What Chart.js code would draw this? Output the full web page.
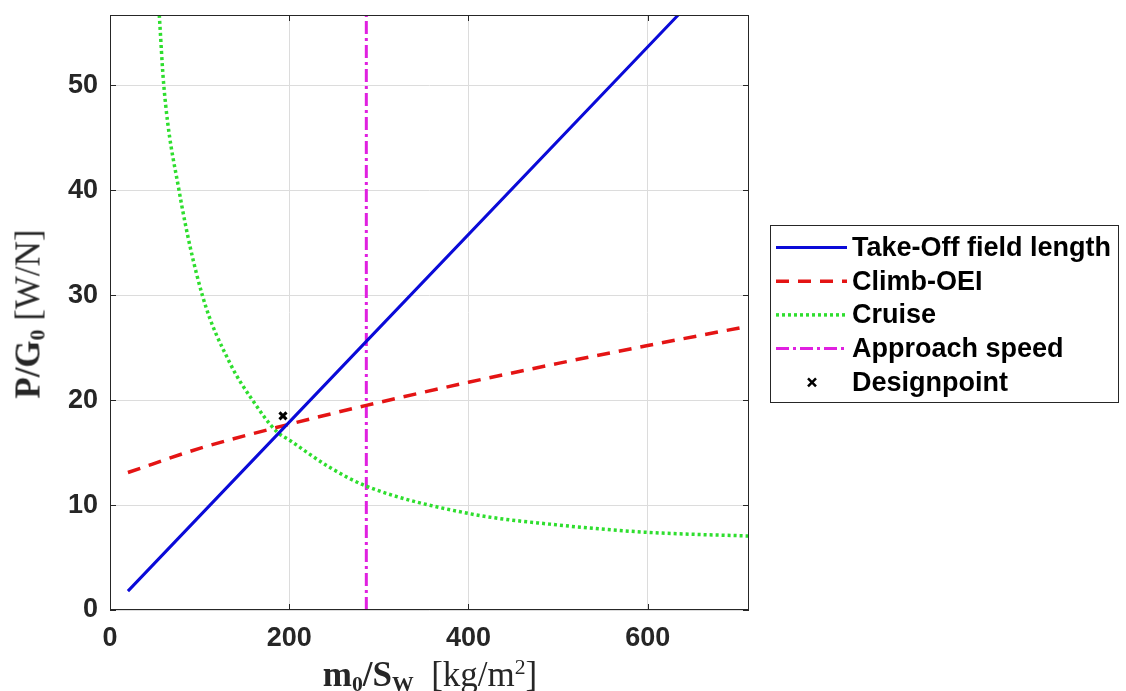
<!DOCTYPE html>
<html lang="en">
<head>
    <meta charset="UTF-8">
    <title>Constraint diagram</title>
    <script src="https://cdn.jsdelivr.net/npm/chart.js@4.4.1/dist/chart.umd.min.js"></script>
    <style>
        body { margin: 0; background: #fff; }
        #wrap { position: relative; width: 1126px; height: 691px; }
        .axtitle { position: absolute; font-family: "Liberation Serif", serif; font-size: 35px; color: #262626; white-space: nowrap; line-height: 1; }
        .axtitle b { font-weight: bold; }
        .lo { font-size: 62%; position: relative; top: 0.22em; }
        .hi { font-size: 62%; position: relative; top: -0.55em; }
        #xtitle { left: 430px; top: 674px; transform: translate(-50%, -50%); }
        #ytitle { left: 28px; top: 314px; transform: translate(-50%, -50%) rotate(-90deg); }
    </style>
</head>
<body>
<div id="wrap">
    <canvas id="chart" width="1126" height="691"></canvas>
    <div id="xtitle" class="axtitle"><b>m<span class="lo">0</span>/S<span class="lo">W</span></b>&nbsp; [kg/m<span class="hi">2</span>]</div>
    <div id="ytitle" class="axtitle"><b>P/G<span class="lo">0</span></b>&nbsp;[W/N]</div>
</div>
<script>
    // wing loading m0/Sw [kg/m^2] and power loading P/G0 [W/N]
    const takeoffX = [20, 286, 634];
    const takeoffY = [1.8, 25.6, 56.7];

    const climbX = [20, 100, 200, 286, 400, 500, 600, 713];
    const climbY = [13.1, 15.4, 17.7, 19.5, 21.7, 23.5, 25.2, 27.05];

    const cruiseX = [55, 60, 77, 103, 134, 159, 186, 200, 245, 286, 400, 500, 600, 713];
    const cruiseY = [56.7, 50, 40, 30, 23.5, 20, 17.0, 16.2, 13.6, 11.8, 9.2, 8.1, 7.4, 7.05];

    const approachX = [286, 286];
    const approachY = [0, 56.7];

    const designX = [193];
    const designY = [18.5];

    const xTicks = [0, 200, 400, 600];
    const yTicks = [0, 10, 20, 30, 40, 50];
    const xMax = 713;
    const yMax = 56.7;

    const pts = (xs, ys) => xs.map((x, i) => ({ x: x, y: ys[i] }));

    // box around the axes with inward tick marks, like the original
    const frame = {
        id: 'frame',
        afterDatasetsDraw(chart) {
            const { ctx, chartArea: a, scales } = chart;
            ctx.save();
            ctx.strokeStyle = '#262626';
            ctx.lineWidth = 1;
            ctx.strokeRect(a.left + 0.5, a.top + 0.5, a.right - a.left - 1, a.bottom - a.top - 1);
            ctx.beginPath();
            xTicks.forEach(t => {
                const px = Math.round(scales.x.getPixelForValue(t)) + 0.5;
                ctx.moveTo(px, a.bottom); ctx.lineTo(px, a.bottom - 6);
                ctx.moveTo(px, a.top); ctx.lineTo(px, a.top + 6);
            });
            yTicks.forEach(t => {
                const py = Math.round(scales.y.getPixelForValue(t)) + 0.5;
                ctx.moveTo(a.left, py); ctx.lineTo(a.left + 6, py);
                ctx.moveTo(a.right, py); ctx.lineTo(a.right - 6, py);
            });
            ctx.stroke();
            ctx.restore();
        }
    };

    // boxed legend drawn to the right of the axes
    const boxLegend = {
        id: 'boxLegend',
        afterDraw(chart) {
            const ctx = chart.ctx;
            const left = 770, top = 225, right = 1118, bottom = 402;
            ctx.save();
            ctx.fillStyle = '#fff';
            ctx.fillRect(left, top, right - left, bottom - top);
            ctx.strokeStyle = '#262626';
            ctx.lineWidth = 1;
            ctx.strokeRect(left + 0.5, top + 0.5, right - left, bottom - top);
            ctx.font = 'bold 27px "Liberation Sans", Arial, sans-serif';
            ctx.textBaseline = 'middle';
            ctx.fillStyle = '#000';
            chart.data.datasets.forEach((ds, i) => {
                const y = 247.5 + i * 33.7;
                if (ds.showLine === false) {
                    const cx = 812, r = 4;
                    ctx.strokeStyle = ds.borderColor;
                    ctx.lineWidth = 2.5;
                    ctx.setLineDash([]);
                    ctx.beginPath();
                    ctx.moveTo(cx - r, y - r); ctx.lineTo(cx + r, y + r);
                    ctx.moveTo(cx + r, y - r); ctx.lineTo(cx - r, y + r);
                    ctx.stroke();
                } else {
                    ctx.strokeStyle = ds.borderColor;
                    ctx.lineWidth = ds.borderWidth;
                    ctx.setLineDash(ds.borderDash || []);
                    ctx.beginPath();
                    ctx.moveTo(776, y); ctx.lineTo(847, y);
                    ctx.stroke();
                }
                ctx.setLineDash([]);
                ctx.fillText(ds.label, 852, y + 1);
            });
            ctx.restore();
        }
    };

    const ctx = document.getElementById('chart').getContext('2d');
    const tickFont = { family: '"Liberation Sans", Arial, sans-serif', size: 27, weight: 'bold' };

    new Chart(ctx, {
        type: 'scatter',
        data: {
            datasets: [
                {
                    label: 'Take-Off field length',
                    data: pts(takeoffX, takeoffY),
                    showLine: true, borderColor: '#0a0ad8', borderWidth: 3,
                    pointRadius: 0, tension: 0
                },
                {
                    label: 'Climb-OEI',
                    data: pts(climbX, climbY),
                    showLine: true, borderColor: '#e41414', borderWidth: 3.5, borderDash: [13, 9],
                    pointRadius: 0, cubicInterpolationMode: 'monotone'
                },
                {
                    label: 'Cruise',
                    data: pts(cruiseX, cruiseY),
                    showLine: true, borderColor: '#2ede2e', borderWidth: 3.5, borderDash: [3, 3],
                    pointRadius: 0, cubicInterpolationMode: 'monotone'
                },
                {
                    label: 'Approach speed',
                    data: pts(approachX, approachY),
                    showLine: true, borderColor: '#e020e0', borderWidth: 3, borderDash: [13, 4, 3, 4],
                    pointRadius: 0
                },
                {
                    label: 'Designpoint',
                    data: pts(designX, designY),
                    showLine: false, borderColor: '#000', backgroundColor: '#000',
                    pointStyle: 'crossRot', pointRadius: 5, borderWidth: 3
                }
            ]
        },
        options: {
            responsive: false,
            animation: false,
            clip: 0,
            layout: { padding: { top: 15, right: 377, left: 0, bottom: 0 } },
            plugins: { legend: { display: false }, tooltip: { enabled: false } },
            scales: {
                x: {
                    type: 'linear', min: 0, max: xMax,
                    afterFit: s => { s.height = 81; s.paddingLeft = 0; s.paddingRight = 0; },
                    afterBuildTicks: s => { s.ticks = xTicks.map(v => ({ value: v })); },
                    grid: { color: '#dcdcdc', drawTicks: false },
                    border: { display: false },
                    ticks: { font: tickFont, color: '#262626', padding: 12, maxRotation: 0 }
                },
                y: {
                    type: 'linear', min: 0, max: yMax,
                    afterFit: s => { s.width = 110; s.paddingTop = 0; s.paddingBottom = 0; },
                    afterBuildTicks: s => { s.ticks = yTicks.map(v => ({ value: v })); },
                    grid: { color: '#dcdcdc', drawTicks: false },
                    border: { display: false },
                    ticks: { font: tickFont, color: '#262626', padding: 12 }
                }
            }
        },
        plugins: [frame, boxLegend]
    });
</script>
</body>
</html>
